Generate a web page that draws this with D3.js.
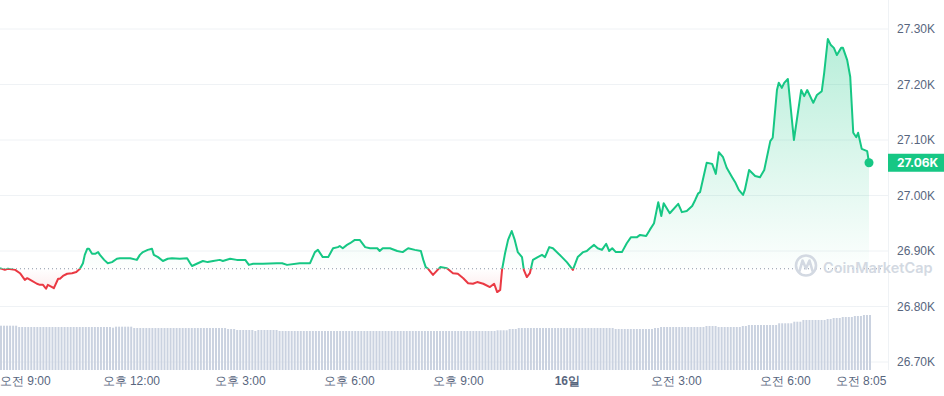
<!DOCTYPE html>
<html>
<head>
<meta charset="utf-8">
<script src="https://cdn.jsdelivr.net/npm/d3@7"></script>
<style>
  body { margin: 0; background: #fff; }
  svg { display: block; font-family: Inter, "Noto Sans CJK KR", sans-serif; }
</style>
</head>
<body>
<svg id="chart" width="944" height="396"></svg>
<script>
// price samples: minutes after start, price in USD
const startTime = new Date(2023, 9, 15, 8, 24);
const endTime = new Date(2023, 9, 16, 8, 19);
const baselinePrice = 26868;

const minutes = [0,8,13,25,33,41,45,50,61,66,71,76,79,86,89,96,99,104,111,119,126,132,137,140,144,147,152,157,162,165,
  172,178,185,193,198,215,226,231,236,244,251,254,261,269,277,284,297,309,314,317,325,335,343,352,363,368,380,391,405,411,
  418,434,457,466,474,495,512,520,525,533,542,550,558,561,566,573,578,586,594,603,611,623,627,632,644,656,665,674,685,695,
  699,703,707,715,727,738,748,756,765,773,781,788,798,809,816,821,826,829,834,839,845,850,855,862,865,870,875,880,888,895,
  900,907,913,928,936,946,954,963,969,974,981,987,994,1001,1006,1011,1017,1027,1035,1042,1052,1057,1067,1073,1080,1087,1092,1096,1106,1120,
  1126,1134,1143,1148,1153,1156,1167,1176,1182,1187,1194,1200,1209,1214,1220,1227,1230,1237,1247,1255,1262,1272,1276,1283,1286,1291,1295,1301,1311,1323,
  1328,1333,1343,1349,1357,1361,1367,1372,1377,1382,1389,1392,1399,1404,1409,1414,1417,1423,1432,1435];

const prices = [26869,26866,26868,26866,26860,26848,26851,26848,26841,26839,26839,26832,26839,26835,26833,26850,26850,26855,26859,26860,
  26862,26868,26878,26893,26904,26904,26895,26895,26898,26893,26884,26878,26880,26886,26887,26887,26884,26893,26898,26902,
  26904,26893,26889,26882,26886,26887,26886,26887,26878,26873,26877,26882,26880,26882,26884,26882,26886,26884,26884,26875,
  26877,26877,26878,26878,26875,26878,26878,26898,26902,26889,26889,26905,26907,26909,26905,26911,26914,26920,26920,26907,
  26905,26905,26900,26905,26905,26900,26898,26905,26902,26900,26884,26871,26868,26857,26871,26869,26860,26859,26851,26842,
  26841,26844,26841,26835,26841,26826,26830,26866,26896,26920,26936,26920,26898,26889,26866,26853,26860,26884,26889,26893,
  26889,26907,26905,26889,26880,26866,26889,26898,26900,26905,26911,26905,26902,26913,26900,26905,26898,26898,26914,26925,
  26925,26929,26927,26938,26950,26988,26963,26986,26968,26985,26970,26972,26981,26992,27004,27006,27059,27057,27039,27078,
  27069,27050,27033,27024,27010,27001,27010,27046,27035,27033,27046,27098,27104,27190,27203,27194,27203,27210,27100,27190,
  27179,27190,27167,27181,27188,27221,27282,27271,27266,27253,27266,27266,27244,27214,27113,27105,27113,27084,27080,27059];

// 24h volume bars, one per 5 minutes, as runs of [bar count, volume in billions]
const volumeRuns = [[6,12.89],[31,12.51],[1,12.31],[6,12.60],[31,12.22],[3,11.93],[6,11.64],[1,11.35],[7,11.64],[72,11.35],
  [4,11.55],[3,11.93],[32,12.22],[13,11.93],[2,12.22],[15,12.51],[4,12.80],[8,12.51],[2,12.80],[10,13.09],
  [5,13.59],[3,14.05],[8,14.55],[2,14.84],[3,15.13],[4,15.42],[3,15.71],[3,16.00]];

const priceTicks = [26700, 26800, 26900, 27000, 27100, 27200, 27300];
const timeTicks = [
  new Date(2023, 9, 15, 9, 0), new Date(2023, 9, 15, 12, 0), new Date(2023, 9, 15, 15, 0),
  new Date(2023, 9, 15, 18, 0), new Date(2023, 9, 15, 21, 0), new Date(2023, 9, 16, 0, 0),
  new Date(2023, 9, 16, 3, 0), new Date(2023, 9, 16, 6, 0), new Date(2023, 9, 16, 8, 5)];

const GREEN = "#16c784", RED = "#ea3943", GRID = "#eff2f5", LABEL = "#58667e";

const data = minutes.map((m, i) => ({ t: new Date(startTime.getTime() + m * 60000), p: prices[i] }));
const volumes = [];
volumeRuns.forEach(([n, v]) => { for (let k = 0; k < n; k++) volumes.push(v); });
const volData = volumes.map((v, i) => ({ t: new Date(startTime.getTime() + i * 5 * 60000), v }));

const svg = d3.select("#chart");
const plotRight = 888;

const x = d3.scaleTime().domain([startTime, endTime]).range([0, 869]);
const y = d3.scaleLinear().domain([26700, 27300]).range([362, 29]);
const vy = d3.scaleLinear().domain([0, 16]).range([370, 315]);
const baseY = y(baselinePrice);

// grid
svg.append("g").selectAll("line").data(priceTicks).enter().append("line")
  .attr("x1", 0).attr("x2", plotRight)
  .attr("y1", d => y(d)).attr("y2", d => y(d))
  .attr("stroke", GRID).attr("stroke-width", 1);
svg.append("line").attr("x1", plotRight + 0.5).attr("x2", plotRight + 0.5)
  .attr("y1", 0).attr("y2", 370).attr("stroke", GRID);

// volume
svg.append("g").selectAll("rect").data(volData).enter().append("rect")
  .attr("x", d => x(d.t)).attr("width", 2)
  .attr("y", d => vy(d.v)).attr("height", d => vy(0) - vy(d.v))
  .attr("fill", "#cad2e0");

const defs = svg.append("defs");
const gUp = defs.append("linearGradient").attr("id", "gUp")
  .attr("gradientUnits", "userSpaceOnUse").attr("x1", 0).attr("x2", 0)
  .attr("y1", y(27300)).attr("y2", baseY);
gUp.append("stop").attr("offset", 0).attr("stop-color", GREEN).attr("stop-opacity", 0.32);
gUp.append("stop").attr("offset", 1).attr("stop-color", GREEN).attr("stop-opacity", 0.01);
const gDn = defs.append("linearGradient").attr("id", "gDn")
  .attr("gradientUnits", "userSpaceOnUse").attr("x1", 0).attr("x2", 0)
  .attr("y1", baseY).attr("y2", y(26820));
gDn.append("stop").attr("offset", 0).attr("stop-color", RED).attr("stop-opacity", 0.0);
gDn.append("stop").attr("offset", 1).attr("stop-color", RED).attr("stop-opacity", 0.12);

defs.append("clipPath").attr("id", "above").append("rect")
  .attr("x", -10).attr("y", 0).attr("width", 900).attr("height", baseY);
defs.append("clipPath").attr("id", "below").append("rect")
  .attr("x", -10).attr("y", baseY).attr("width", 900).attr("height", 396 - baseY);

const area = d3.area().x(d => x(d.t)).y0(baseY).y1(d => y(d.p));
const line = d3.line().x(d => x(d.t)).y(d => y(d.p));

svg.append("path").datum(data).attr("d", area).attr("fill", "url(#gUp)").attr("clip-path", "url(#above)");
svg.append("path").datum(data).attr("d", area).attr("fill", "url(#gDn)").attr("clip-path", "url(#below)");

// baseline (opening price)
svg.append("line").attr("x1", 0).attr("x2", plotRight)
  .attr("y1", baseY).attr("y2", baseY)
  .attr("stroke", "#8a94a6").attr("stroke-width", 1).attr("stroke-dasharray", "1 3");

// watermark
const wm = svg.append("g");
wm.append("circle").attr("cx", 806).attr("cy", 265.5).attr("r", 10)
  .attr("fill", "none").attr("stroke", "#d3d9e2").attr("stroke-width", 2.6);
wm.append("path").attr("d", "M799.5,271 L802.5,260.5 L806,268.5 L809.5,260.5 L812.5,271")
  .attr("fill", "none").attr("stroke", "#d3d9e2").attr("stroke-width", 2.6)
  .attr("stroke-linejoin", "round").attr("stroke-linecap", "round");
wm.append("text").attr("x", 823).attr("y", 272.5).text("CoinMarketCap")
  .attr("font-size", 14.5).attr("font-weight", 600).attr("fill", "#d3d9e2");

// price line
svg.append("path").datum(data).attr("d", line).attr("fill", "none")
  .attr("stroke", GREEN).attr("stroke-width", 2).attr("stroke-linejoin", "round")
  .attr("clip-path", "url(#above)");
svg.append("path").datum(data).attr("d", line).attr("fill", "none")
  .attr("stroke", RED).attr("stroke-width", 2).attr("stroke-linejoin", "round")
  .attr("clip-path", "url(#below)");

const last = data[data.length - 1];
svg.append("circle").attr("cx", x(last.t)).attr("cy", y(last.p)).attr("r", 4.5).attr("fill", GREEN);

// y axis
const yAxis = svg.append("g").attr("transform", `translate(${plotRight - 1},0)`)
  .call(d3.axisRight(y).tickValues(priceTicks).tickSize(0).tickPadding(10)
    .tickFormat(d => (d / 1000).toFixed(2) + "K"));
yAxis.select(".domain").remove();
yAxis.selectAll("text").attr("font-size", 12).attr("fill", LABEL).attr("font-family", null);

// current price tag
svg.append("rect").attr("x", plotRight).attr("y", y(last.p) - 9).attr("width", 944 - plotRight).attr("height", 18)
  .attr("fill", GREEN);
svg.append("text").attr("x", plotRight + 9).attr("y", y(last.p)).attr("dy", "0.35em")
  .text((last.p / 1000).toFixed(2) + "K").attr("font-size", 12).attr("font-weight", 700).attr("fill", "#fff");

// x axis
function koTime(d) {
  const h = d.getHours(), m = d.getMinutes();
  if (h === 0 && m === 0) return d.getDate() + "일";
  const ap = h < 12 ? "오전" : "오후";
  const hh = h % 12 === 0 ? 12 : h % 12;
  return ap + " " + hh + ":" + String(m).padStart(2, "0");
}
const xAxis = svg.append("g").attr("transform", "translate(0,370)")
  .call(d3.axisBottom(x).tickValues(timeTicks).tickSize(0).tickPadding(6).tickFormat(koTime));
xAxis.select(".domain").remove();
xAxis.selectAll("text").attr("font-size", 12).attr("fill", LABEL).attr("font-family", null)
  .attr("font-weight", d => (d.getHours() === 0 ? 700 : 400));
// keep the first label inside the frame
xAxis.selectAll("text").each(function () {
  const bb = this.getBBox();
  const tx = +d3.select(this.parentNode).attr("transform").match(/translate\(([-\d.]+)/)[1];
  if (tx + bb.x < 0) d3.select(this).attr("x", -(tx + bb.x));
});
</script>
</body>
</html>
